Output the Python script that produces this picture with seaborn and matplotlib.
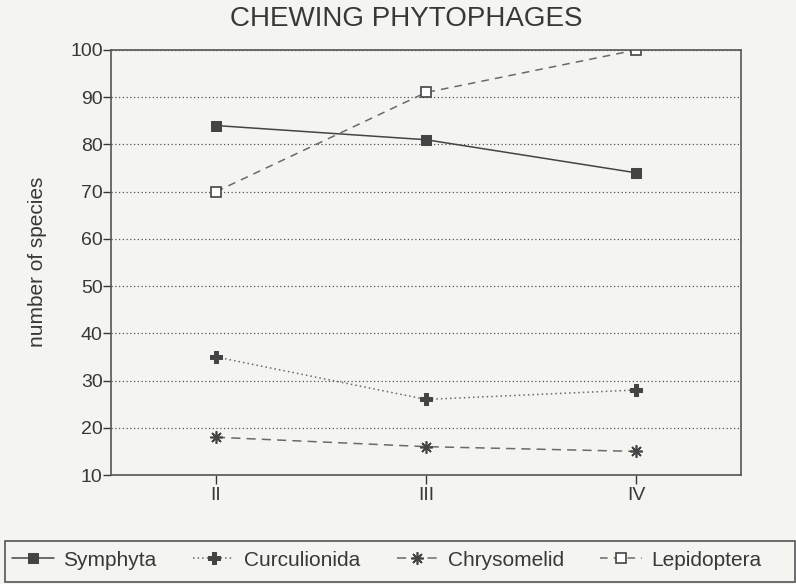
import pandas as pd
import matplotlib.pyplot as plt
import seaborn as sns
from matplotlib.patches import Rectangle

stages = ['II', 'III', 'IV']
symphyta = [84, 81, 74]
curculionida = [35, 26, 28]
chrysomelid = [18, 16, 15]
lepidoptera = [70, 91, 100]

sns.set_style('white')
plt.rcParams['font.family'] = ['Liberation Sans', 'DejaVu Sans']

gris = '#444444'
gris_claro = '#6a6a6a'
texto = '#383838'
fondo = '#f4f4f1'

fig = plt.figure(figsize=(7.96, 5.84), dpi=100, facecolor=fondo)
ax = fig.add_axes([111 / 796, 1 - 475 / 584, 630 / 796, 425 / 584])
ax.set_facecolor(fondo)

x = list(range(len(stages)))
series = [
    ('Symphyta', symphyta, gris,
     dict(linestyle='-', marker='s', markersize=7, markerfacecolor=gris, markeredgecolor=gris)),
    ('Curculionida', curculionida, gris_claro,
     dict(linestyle=(0, (1, 2)), marker='P', markersize=8, markerfacecolor=gris, markeredgecolor=gris)),
    ('Chrysomelid', chrysomelid, gris_claro,
     dict(linestyle=(0, (6, 4)), marker=(8, 2, 0), markersize=9, markeredgewidth=1.2, markeredgecolor=gris)),
    ('Lepidoptera', lepidoptera, gris_claro,
     dict(linestyle=(0, (5, 4)), marker='s', markersize=7, markerfacecolor='white',
          markeredgecolor=gris, markeredgewidth=1.2)),
]

for nombre, valores, color, estilo in series:
    df = pd.DataFrame({'x': x, 'y': valores})
    sns.lineplot(data=df, x='x', y='y', ax=ax, color=color, linewidth=1.1, label=nombre, **estilo)

ax.set_xlim(-0.5, 2.5)
ax.set_ylim(10, 100)
ax.set_yticks(range(10, 101, 10))
ax.set_xticks(x)
ax.set_xticklabels(stages)
ax.tick_params(axis='both', labelsize=14, colors=texto, direction='out', width=1,
               bottom=True, left=True)
ax.tick_params(axis='y', length=5.5, pad=0.5)
ax.tick_params(axis='x', length=6.5, pad=2)
for t in ax.get_xticklines() + ax.get_yticklines():
    t.set_color('#555555')
ax.yaxis.grid(True, linestyle=(0, (1, 2)), color='#555555', linewidth=0.9)
for lado in ax.spines.values():
    lado.set_color('#555555')
    lado.set_linewidth(1.2)

ax.set_xlabel('')
ax.set_ylabel('')
fig.text(38 / 796, 1 - 262 / 584, 'number of species', rotation=90, ha='center', va='center',
         fontsize=15, color=texto)
fig.text(406 / 796, 1 - 26 / 584, 'CHEWING PHYTOPHAGES', ha='center', va='baseline',
         fontsize=20, color=texto)

# leyenda en caja inferior
ax.get_legend().remove()
handles, labels = ax.get_legend_handles_labels()
fig.patches.append(Rectangle((5 / 796, 2 / 584), 790 / 796, 37 / 584 + 4 / 584,
                             transform=fig.transFigure, facecolor=fondo,
                             edgecolor='#555555', linewidth=1.2, zorder=0))
leg = fig.legend(handles, labels, loc='center left', ncol=4,
                 bbox_to_anchor=(12 / 796, 1 - 560 / 584), bbox_transform=fig.transFigure,
                 frameon=False, fontsize=15, handlelength=2.0, handletextpad=0.45,
                 columnspacing=1.75, borderpad=0, borderaxespad=0)
for t in leg.get_texts():
    t.set_color(texto)

fig.savefig('out.png', dpi=100, facecolor=fondo)
